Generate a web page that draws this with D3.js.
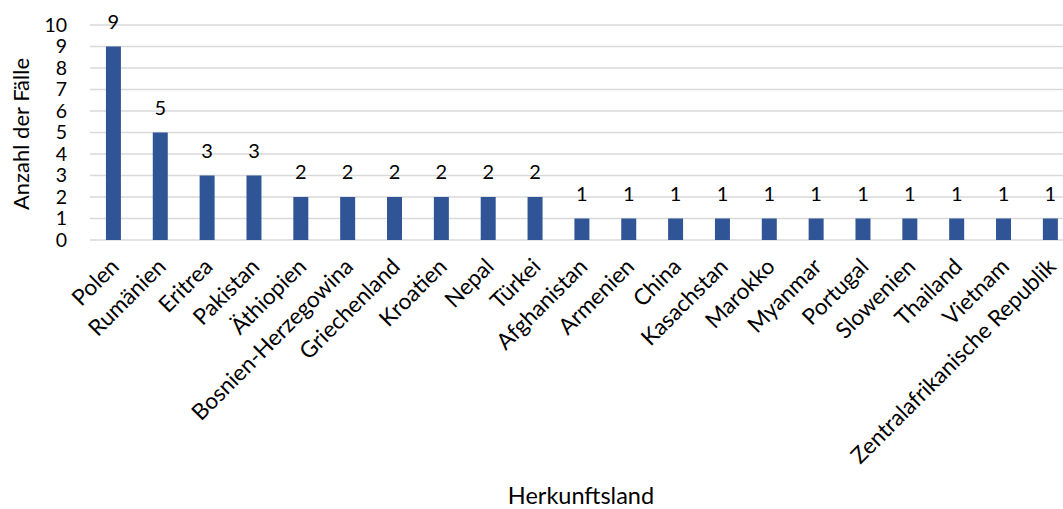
<!DOCTYPE html>
<html>
<head>
<meta charset="utf-8">
<script src="https://cdn.jsdelivr.net/npm/d3@7/dist/d3.min.js"></script>
<style>
  body { margin: 0; background: #fff; }
  svg { display: block; font-family: "Lato", "Open Sans", sans-serif; }
</style>
</head>
<body>
<svg id="chart" width="1063" height="509"></svg>
<script>
const countries = ["Polen", "Rumänien", "Eritrea", "Pakistan", "Äthiopien", "Bosnien-Herzegowina",
  "Griechenland", "Kroatien", "Nepal", "Türkei", "Afghanistan", "Armenien", "China", "Kasachstan",
  "Marokko", "Myanmar", "Portugal", "Slowenien", "Thailand", "Vietnam", "Zentralafrikanische Republik"];
const cases = [9, 5, 3, 3, 2, 2, 2, 2, 2, 2, 1, 1, 1, 1, 1, 1, 1, 1, 1, 1, 1];
const yTicks = [0, 1, 2, 3, 4, 5, 6, 7, 8, 9, 10];

const svg = d3.select("#chart");
const plotLeft = 90, plotRight = 1073.8, plotTop = 25, plotBottom = 240;
const font = "Lato, 'Open Sans', sans-serif";

const x = d3.scaleBand().domain(countries).range([plotLeft, plotRight]).paddingInner(0.68).paddingOuter(0.34);
const y = d3.scaleLinear().domain([0, 10]).range([plotBottom, plotTop]);

// horizontal gridlines
svg.append("g").selectAll("line").data(yTicks).join("line")
  .attr("x1", plotLeft).attr("x2", 1063)
  .attr("y1", d => y(d)).attr("y2", d => y(d))
  .attr("stroke", "#d9d9d9").attr("stroke-width", 1.3);

// y-axis tick labels
const yAxis = d3.axisLeft(y).tickValues(yTicks).tickSize(0).tickPadding(0);
svg.append("g").attr("transform", `translate(${plotLeft - 23},0)`).call(yAxis)
  .call(g => g.select(".domain").remove())
  .selectAll("text").attr("font-size", 19.5).attr("fill", "#000").attr("font-family", font);

// bars
svg.append("g").selectAll("rect").data(cases).join("rect")
  .attr("x", (d, i) => x(countries[i]))
  .attr("width", x.bandwidth())
  .attr("y", d => y(d))
  .attr("height", d => y(0) - y(d))
  .attr("fill", "#2f5597");

// value labels
svg.append("g").selectAll("text").data(cases).join("text")
  .attr("x", (d, i) => x(countries[i]) + x.bandwidth() / 2)
  .attr("y", d => y(d) - 18)
  .attr("text-anchor", "middle")
  .attr("font-size", 20)
  .text(d => d);

// category labels, rotated
const xAxis = d3.axisBottom(x).tickSize(0).tickPadding(0);
svg.append("g").attr("transform", `translate(0,${plotBottom})`).call(xAxis)
  .call(g => g.select(".domain").remove())
  .selectAll("text")
  .attr("font-size", 22.5).attr("fill", "#000").attr("font-family", font)
  .attr("text-anchor", "end")
  .attr("dy", null).attr("y", 0)
  .attr("transform", "translate(7,28) rotate(-45)");

// axis titles
svg.append("text")
  .attr("transform", `translate(29,134) rotate(-90)`)
  .attr("text-anchor", "middle")
  .attr("font-size", 22)
  .text("Anzahl der Fälle");

svg.append("text")
  .attr("x", 581).attr("y", 504)
  .attr("text-anchor", "middle")
  .attr("font-size", 23.5)
  .text("Herkunftsland");
</script>
</body>
</html>
